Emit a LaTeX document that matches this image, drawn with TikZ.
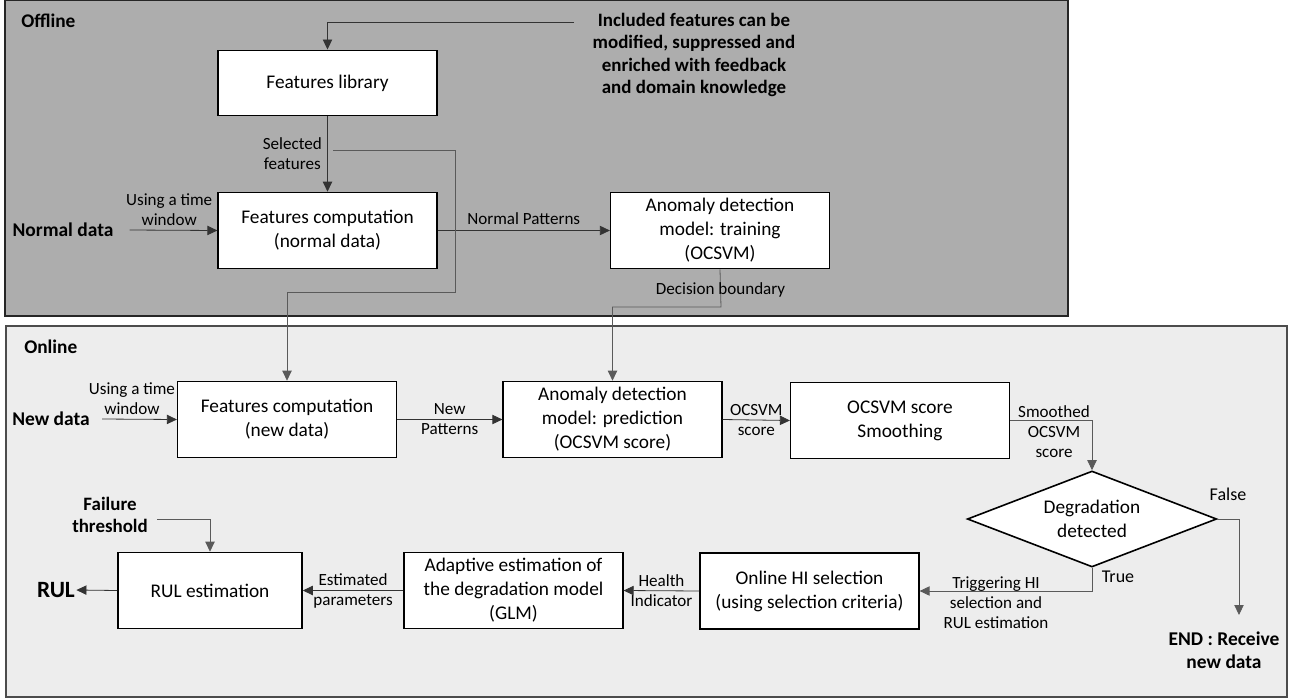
\documentclass[tikz,border=0pt]{standalone}
\usepackage{fontspec}
\setmainfont{Carlito}
\usetikzlibrary{arrows.meta,positioning,shapes.geometric}
\definecolor{offgray}{RGB}{173,173,173}
\definecolor{ongray}{RGB}{237,237,237}
\definecolor{linegray}{RGB}{90,90,90}
\tikzset{
	>={Triangle[length=7.5pt,width=7pt]},
	block/.style={
		rectangle,
		fill=white,
		draw=black, line width=1.2pt,
		minimum width=164pt,
		minimum height=57pt,
		align=center,
		font=\fontsize{14.5}{18}\selectfont},
	decision/.style={
		diamond,
		aspect=2.6,
		fill=white,
		draw=black, line width=1.2pt,
		minimum width=187pt,
		minimum height=72pt,
		inner sep=0pt,
		align=center,
		font=\fontsize{14.5}{18}\selectfont},
	line/.style={draw=black!80, line width=0.6pt, ->},
	branch/.style={draw=linegray, line width=0.6pt},
	lbl/.style={align=center, inner sep=1pt, font=\fontsize{12.8}{15}\selectfont},
	note/.style={align=center, inner sep=1pt, font=\bfseries\fontsize{14.2}{16.7}\selectfont},
	source/.style={inner sep=1pt, font=\bfseries\fontsize{14.6}{17.5}\selectfont},
	panel/.style={font=\bfseries\fontsize{14.5}{17}\selectfont, anchor=west, inner sep=0pt},
}

\begin{document}
\begin{tikzpicture}
[x=0.75pt,y=-0.75pt]
\useasboundingbox (0,0) rectangle (1297,700);
% the two panels
\draw[fill=offgray, draw=black!85, line width=1.4pt] (5,0) rectangle (1068,316);
\draw[fill=ongray, draw=black!70, line width=1.1pt] (6,326) rectangle (1287,697);
\node[panel] (offline) at (21,21) {Offline};
\node[panel] (online) at (24,347) {Online};

% offline part
\node[block, minimum height=49pt] (lib) at (327.5,83) {Features library};
\node[block] (normcomp) at (327.5,230.5) {Features computation\\(normal data)};
\node[block] (train) at (720,230.5) {Anomaly detection\\model: training\\(OCSVM)};
\node[note] (feedback) at (694,55) {Included features can be\\modified, suppressed and\\enriched with feedback\\and domain knowledge};
\node[source] (normdata) at (63,230) {Normal data};
\coordinate (fbstart) at (574,22.7);
\coordinate (selsplit) at (333,150);

\draw[line] (fbstart) -| (lib.north);
\draw[line] (lib.south) -- node[lbl, left=3pt] {Selected\\features} (normcomp.north);
\draw[line] ([xshift=11pt]normdata.east) -- node[lbl, above=2pt, pos=0.45] {Using a time\\window} (normcomp.west);
\draw[line] (normcomp.east) -- node[lbl, above=3pt] {Normal Patterns} (train.west);

% online part
\node[block] (newcomp) at (287,419.5) {Features computation\\(new data)};
\node[block] (predict) at (612.5,419.5) {Anomaly detection\\model: prediction\\(OCSVM score)};
\node[block] (smooth) at (900,420.5) {OCSVM score\\Smoothing};
\node[decision] (degrad) at (1092,519) {Degradation\\detected};
\node[block] (hisel) at (809.5,591) {Online HI selection\\(using selection criteria)};
\node[block] (adapt) at (513.5,590.5) {Adaptive estimation of\\the degradation model\\(GLM)};
\node[block, minimum width=138pt] (rulest) at (210,590.5) {RUL estimation};
\node[source] (newdata) at (51,419) {New data};
\node[source, font=\bfseries\fontsize{17.5}{20}\selectfont] (rul) at (56,590) {RUL};
\node[note] (threshold) at (110,515) {Failure\\threshold};
\node[source, align=center] (enddata) at (1224,650) {END : Receive\\new data};
\node[lbl] (smoothlbl) at (1054,432) {Smoothed\\OCSVM\\score};
\node[lbl] (triglbl) at (996,603) {Triggering HI\\selection and\\RUL estimation};
\node[lbl, font=\fontsize{13.5}{16}\selectfont] (falselbl) at (1228,494) {False};
\node[lbl, font=\fontsize{13.5}{16}\selectfont] (truelbl) at (1118,577) {True};
\coordinate (endpt) at (1239,615);

\draw[branch, ->] (selsplit) -- (455,150) -- (455,292) -| (newcomp.north);
\draw[branch, ->] (train.south) -- node[lbl, pos=0.55] {Decision boundary} (721,307) -| (predict.north);
\draw[line] ([xshift=8pt]newdata.east) -- node[lbl, above=2pt, pos=0.4] {Using a time\\window} (newcomp.west);
\draw[line] (newcomp.east) -- node[lbl] {New\\Patterns} (predict.west);
\draw[line] (predict.east) -- node[lbl] {OCSVM\\score} (smooth.west);
\draw[branch, ->] (smooth.east) -| (degrad.north);
\draw[branch, ->] (degrad.east) -| (endpt);
\draw[branch, ->] (degrad.south) |- (hisel.east);
\draw[line] (hisel.west) -- node[lbl] {Health\\Indicator} (adapt.east);
\draw[line] (adapt.west) -- node[lbl] {Estimated\\parameters} (rulest.east);
\draw[line] (rulest.west) -- (rul.east);
\draw[branch, ->] ([xshift=6pt,yshift=-3pt]threshold.east) -| (rulest.north);
\end{tikzpicture}
\end{document}
